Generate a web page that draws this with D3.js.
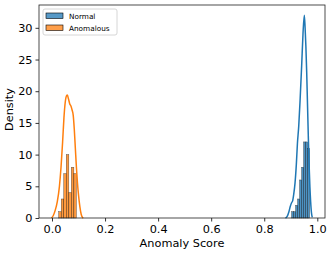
<!DOCTYPE html>
<html>
<head>
<meta charset="utf-8">
<script src="https://cdn.jsdelivr.net/npm/d3@7"></script>
<style>
  body { margin: 0; background: #fff; }
  text { font-family: "DejaVu Sans", sans-serif; }
</style>
</head>
<body>
<svg class="chart"></svg>
<script>
// histogram bins (left edge, density)
var normalBinStart = 0.903, normalBinWidth = 0.00755;
var normalHist = [1, 1, 2, 3, 6, 8, 12, 12, 11];
var anomBinStart = 0.0253, anomBinWidth = 0.0095;
var anomHist = [1, 3, 7, 10, 4, 8, 7];

// kde curves
var normalKde = [[0.880,0],[0.887,0.3],[0.893,1.0],[0.898,1.8],[0.903,2.4],[0.907,2.7],[0.911,3.7],[0.916,5.5],[0.921,8.5],[0.925,11.7],[0.930,14.5],[0.935,18.5],[0.941,24],[0.946,29],[0.951,32],[0.954,30],[0.957,27],[0.960,23],[0.963,18],[0.966,13],[0.969,8.5],[0.972,5],[0.975,2.5],[0.978,0.8],[0.981,0.1]];
var anomKde = [[-0.002,0],[0.005,0.4],[0.012,1.2],[0.020,2.6],[0.028,5],[0.034,8],[0.040,12],[0.045,15.8],[0.050,18.3],[0.055,19.3],[0.058,19.4],[0.062,18.8],[0.067,18.0],[0.072,17.6],[0.076,17],[0.080,16.2],[0.084,14],[0.088,11],[0.092,8],[0.096,5.5],[0.100,3.6],[0.105,1.8],[0.110,0.6],[0.115,0.1],[0.118,0]];

var xTicks = [0, 0.2, 0.4, 0.6, 0.8, 1.0];
var yTicks = [0, 5, 10, 15, 20, 25, 30];
var seriesNames = ["Normal", "Anomalous"];
var colors = ["#1f77b4", "#ff7f0e"];

var margin = {top: 5, right: 7, bottom: 37, left: 39};
var width = 332, height = 255;
var w = width - margin.left - margin.right;
var h = height - margin.top - margin.bottom;

var svg = d3.select(".chart").attr("width", width).attr("height", height);
var chart = svg.append("g").attr("transform", "translate(" + margin.left + "," + margin.top + ")");

var x = d3.scaleLinear().domain([-0.049, 1.029]).range([0, w]);
var y = d3.scaleLinear().domain([0, 33.6]).range([h, 0]);

function drawHist(vals, start, bw, color) {
  chart.append("g").selectAll("rect")
    .data(vals)
    .enter().append("rect")
    .attr("x", function(d, i) { return x(start + i * bw); })
    .attr("width", function(d, i) { return x(start + (i + 1) * bw) - x(start + i * bw); })
    .attr("y", function(d) { return y(d); })
    .attr("height", function(d) { return y(0) - y(d); })
    .attr("fill", color)
    .attr("fill-opacity", 0.8)
    .attr("stroke", "#000")
    .attr("stroke-opacity", 0.6)
    .attr("stroke-width", 0.5);
}
drawHist(normalHist, normalBinStart, normalBinWidth, colors[0]);
drawHist(anomHist, anomBinStart, anomBinWidth, colors[1]);

var line = d3.line()
  .x(function(d) { return x(d[0]); })
  .y(function(d) { return y(d[1]); })
  .curve(d3.curveMonotoneX);

[normalKde, anomKde].forEach(function(k, i) {
  chart.append("path")
    .attr("d", line(k))
    .attr("fill", "none")
    .attr("stroke", colors[i])
    .attr("stroke-width", 1.5);
});

// axes
var xAxis = chart.append("g")
  .attr("transform", "translate(0," + h + ")")
  .call(d3.axisBottom(x).tickValues(xTicks).tickFormat(d3.format(".1f")).tickSize(3.5).tickPadding(3));
var yAxis = chart.append("g")
  .call(d3.axisLeft(y).tickValues(yTicks).tickSize(3.5).tickPadding(3));
[xAxis, yAxis].forEach(function(a) {
  a.selectAll("text").attr("font-size", 11.3).attr("fill", "#000").style("font-family", "DejaVu Sans");
  a.select(".domain").remove();
  a.selectAll("line").attr("stroke", "#000").attr("stroke-width", 0.8);
});

// frame
chart.append("rect")
  .attr("width", w).attr("height", h)
  .attr("fill", "none").attr("stroke", "#222").attr("stroke-width", 0.8);

chart.append("text")
  .attr("x", (182 - margin.left)).attr("y", h + 29)
  .attr("text-anchor", "middle")
  .attr("font-size", 11.3)
  .text("Anomaly Score");

chart.append("text")
  .attr("transform", "rotate(-90)")
  .attr("x", -h / 2 + 2).attr("y", -26)
  .attr("text-anchor", "middle")
  .attr("font-size", 11.3)
  .text("Density");

// legend
var legend = chart.append("g").attr("transform", "translate(4,4)");
legend.append("rect")
  .attr("width", 74).attr("height", 26).attr("rx", 2)
  .attr("fill", "#fff").attr("fill-opacity", 0.8)
  .attr("stroke", "#ccc").attr("stroke-width", 0.8);
seriesNames.forEach(function(name, i) {
  var g = legend.append("g").attr("transform", "translate(3," + (4 + i * 12) + ")");
  g.append("rect")
    .attr("width", 17).attr("height", 5.5)
    .attr("fill", colors[i]).attr("fill-opacity", 0.75)
    .attr("stroke", "#000").attr("stroke-width", 0.6);
  g.append("text")
    .attr("x", 23).attr("y", 5.5)
    .attr("font-size", 7.3)
    .text(name);
});
</script>
</body>
</html>
